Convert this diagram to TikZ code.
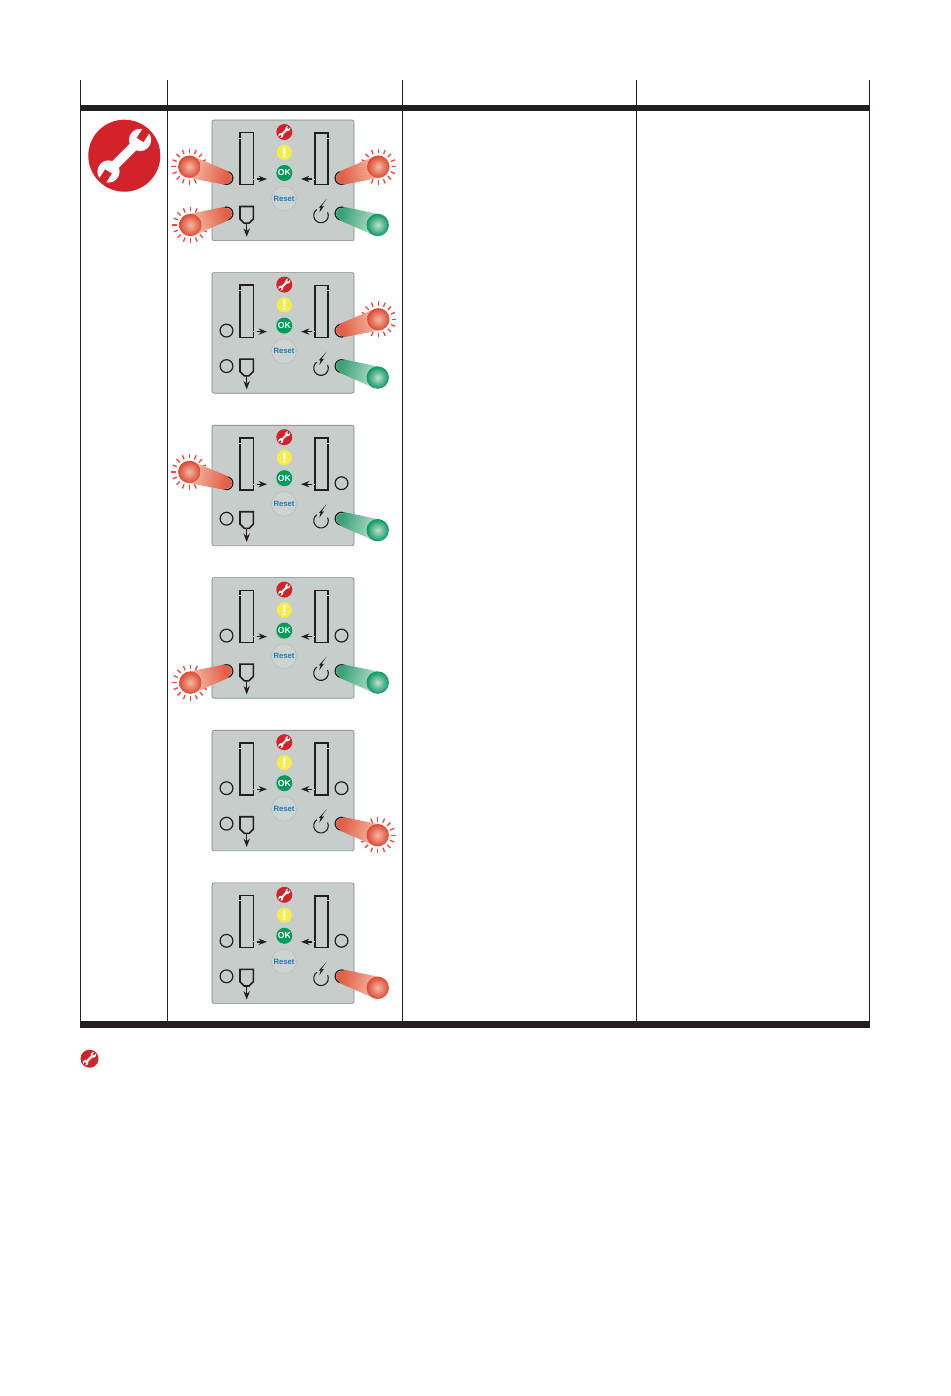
\documentclass[tikz,border=0pt]{standalone}
\usepackage{fontspec}
\newfontfamily\panelfont{Liberation Sans}
\usetikzlibrary{calc,arrows.meta,positioning}
\definecolor{inkblack}{HTML}{231F20}
\definecolor{panelgrey}{HTML}{C6CDCA}
\definecolor{wrenchred}{HTML}{D2232A}
\definecolor{okgreen}{HTML}{009A5B}
\definecolor{warnyellow}{HTML}{F6EC4F}
\definecolor{resetblue}{HTML}{1B7DB6}
\definecolor{beamred}{HTML}{E35F48}
\definecolor{beamredpale}{HTML}{F4C3AE}
\definecolor{beamgreen}{HTML}{3BA37B}
\definecolor{beamgreenpale}{HTML}{C6E3D4}
\definecolor{ballred}{HTML}{DC4934}
\definecolor{ballredpale}{HTML}{F5B9A5}
\definecolor{ballgreen}{HTML}{0C9663}
\definecolor{ballgreenpale}{HTML}{BFE3CF}
\definecolor{flashred}{HTML}{E2493F}
\tikzset{
  rule/.style={line width=0.9pt,inkblack},
  heavyrule/.style={fill=inkblack},
  outline/.style={line width=1.6pt,inkblack},
  pointer/.style={-{Stealth[scale=0.9]},line width=1.4pt,inkblack},
  smallled/.style={line width=1.2pt,inkblack},
  redbeam/.style={top color=beamred,bottom color=beamredpale},
  greenbeam/.style={top color=beamgreen,bottom color=beamgreenpale},
  redball/.style={inner color=ballredpale,outer color=ballred},
  greenball/.style={inner color=ballgreenpale,outer color=ballgreen},
  flash/.style={line width=1.3pt,flashred},
  wrenchicon/.pic={
    \fill[wrenchred] (0,0) circle (1);
    \begin{scope}[rotate=45]
      \fill[white] (-0.62,-0.13) rectangle (0.62,0.13);
      \fill[white] (0.62,0) circle (0.31);
      \fill[white] (-0.62,0) circle (0.31);
      \fill[wrenchred,rotate around={12:(0.62,0)}] (0.62,-0.11) rectangle (0.96,0.11);
      \fill[wrenchred,rotate around={12:(-0.62,0)}] (-0.62,-0.11) rectangle (-0.96,0.11);
    \end{scope}
  }
}
\begin{document}
\begin{tikzpicture}[x=1pt,y=-1pt]
  \useasboundingbox (0,0) rectangle (950,1396);
  % table
  \foreach \tx in {80.5,167.5,402.5,636.5,869.5}
  {
    \draw[rule] (\tx,80) -- (\tx,1024);
  };
  \fill[heavyrule] (80,105) rectangle (870,111.5);
  \fill[heavyrule] (80,1021) rectangle (870,1027.5);
  \pic[scale=36] at (124.3,155.7) {wrenchicon};
  \pic[scale=9] at (89.5,1058.7) {wrenchicon};

  % panels
  \foreach \p/\py in {1/120,2/272.6,3/425.2,4/577.6,5/730.2,6/882.8}
  {
    \begin{scope}[shift={(212,\py)}]
      \draw[fill=panelgrey,draw=gray,line width=0.6pt,rounded corners=2pt] (0,0) rectangle (142,120.6);
      % slots
      \draw[outline] (27.7,12.7) rectangle (41.3,64.7);
      \draw[outline] (102.7,13) rectangle (116,64.7);
      \draw[panelgrey,line width=0.8pt] (27,18) -- (29,18) (40.6,59) -- (42,59);
      \draw[panelgrey,line width=0.8pt] (115.3,18) -- (116.7,18) (102,59) -- (103.4,59);
      \draw[pointer] (44.7,59) -- (55,59);
      \draw[pointer] (99.7,59) -- (89,59);
      % output
      \draw[outline,line join=miter] (28,86.5) -- (41.3,86.5) -- (41.3,98.9) -- (37,103.2) -- (32.3,103.2) -- (28,98.9) -- cycle;
      \draw[pointer] (34.7,103) -- (34.7,116.8);
      % burner
      \draw[line width=1.1pt,inkblack] (104.8,89.5) arc[start angle=125,end angle=385,radius=7.3pt];
      \fill[inkblack] (114.7,78.9) -- (109.4,86.4) -- (112,86.2) -- (107.3,92.5) -- (108.6,87.6) -- (106.8,87.8) -- cycle;
      % status lights
      \pic[scale=8] at (72.3,12) {wrenchicon};
      \fill[warnyellow] (72.3,32.3) circle (7.6);
      \fill[white] (71.3,27.6) rectangle (73.3,34.4) (71.3,35.4) rectangle (73.3,37);
      \node[circle,fill=okgreen,inner sep=0pt,minimum size=16pt,text=white,font=\fontsize{8.7}{9}\panelfont\bfseries] (ok\p) at (72.3,53) {OK};
      \node[circle,fill=panelgrey!88!white,draw=gray!55,line width=0.5pt,inner sep=0pt,minimum size=25pt,text=resetblue,font=\fontsize{7.7}{8}\panelfont\bfseries] (reset\p) at (72,78.6) {Reset};
      % indicator positions
      \coordinate (p\p tl) at (14.5,58);
      \coordinate (p\p tr) at (129.5,58);
      \coordinate (p\p bl) at (14.5,93.5);
      \coordinate (p\p br) at (129.5,93.5);
      \coordinate (p\p tlbig) at (-22.7,46.7);
      \coordinate (p\p trbig) at (166.3,46.7);
      \coordinate (p\p blbig) at (-21.7,105);
      \coordinate (p\p brbig) at (165.7,105);
      \foreach \s in {tl,tr,bl,br}
      {
        \draw[smallled] (p\p\s) circle (6.4);
      };
    \end{scope}
  };

  % blinking rays
  \foreach \p/\s in {1/tl,1/tr,1/bl,2/tr,3/tl,4/bl,5/br}
  {
    \foreach \a in {0,22.5,...,337.5}
    {
      \draw[flash] ($(p\p\s big)+(\a:13.5)$) -- ($(p\p\s big)+(\a:18)$);
    };
  };

  % lit indicators
  \foreach \p/\s/\ang/\beam/\ball/\tip in
  {1/tl/-106.6/redbeam/redball/beamred,
   1/tr/106.4/redbeam/redball/beamred,
   1/bl/-73/redbeam/redball/beamred,
   1/br/73/greenbeam/greenball/beamgreen,
   2/tr/106.4/redbeam/redball/beamred,
   2/br/73/greenbeam/greenball/beamgreen,
   3/tl/-106.6/redbeam/redball/beamred,
   3/br/73/greenbeam/greenball/beamgreen,
   4/bl/-73/redbeam/redball/beamred,
   4/br/73/greenbeam/greenball/beamgreen,
   5/br/73/redbeam/redball/beamred,
   6/br/73/redbeam/redball/beamred}
  {
    \fill[\tip] (p\p\s) circle (5.6);
    \shade[\beam,shading angle=\ang]
      ($(p\p\s)!7pt!90:(p\p\s big)$) -- ($(p\p\s big)!11pt!-90:(p\p\s)$)
      -- ($(p\p\s big)!11pt!90:(p\p\s)$) -- ($(p\p\s)!7pt!-90:(p\p\s big)$) -- cycle;
    \shade[\ball] (p\p\s big) circle (11.2);
  };
\end{tikzpicture}
\end{document}
